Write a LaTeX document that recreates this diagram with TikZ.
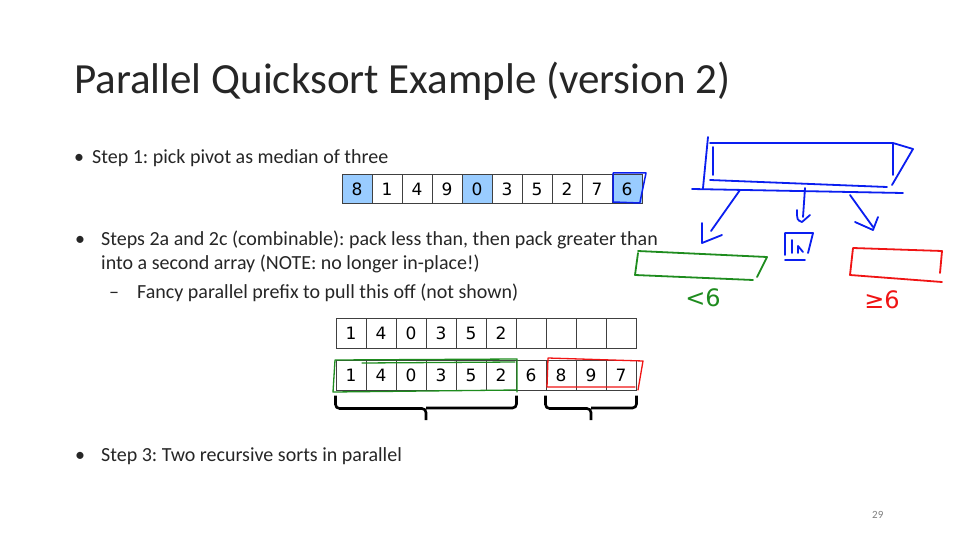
\documentclass[tikz,border=0pt]{standalone}
\usepackage{fontspec}
\setmainfont{Carlito}
\newfontfamily\cellfont{DejaVu Sans}
\usepackage{tikz}
\usetikzlibrary{arrows.meta,positioning}
\frenchspacing
\definecolor{qstext}{RGB}{38,38,38}
\definecolor{qsgray}{RGB}{64,64,64}
\definecolor{qspivot}{RGB}{153,204,255}
\definecolor{qsblue}{RGB}{10,30,240}
\definecolor{qsgreen}{RGB}{30,140,30}
\definecolor{qsred}{RGB}{240,20,20}
\tikzset{
  cell/.style={draw=qsgray, line width=1pt, minimum width=30pt, minimum height=28pt,
    inner sep=0pt, font=\cellfont\fontsize{17}{17}\selectfont, text=black},
  body/.style={anchor=base west, inner sep=0pt, text=qstext, font=\fontsize{20}{20}\selectfont},
  ink/.style={line width=1.8pt, line cap=round, line join=round},
}

\begin{document}
\begin{tikzpicture}[x=1pt, y=-1pt]
  \useasboundingbox (0,0) rectangle (960,540);
  \fill[white] (0,0) rectangle (960,540);
  % title and bullets
  \node[body, font=\fontsize{43}{43}\selectfont] (title) at (74,94) {Parallel Quicksort Example (version 2)};
  \node[body] (d1) at (74,164) {•};
  \node[body] (b1) at (92,164) {Step 1: pick pivot as median of three};
  \node[body] (d2) at (75,245) {•};
  \node[body] (b2) at (101,245) {Steps 2a and 2c (combinable): pack less than, then pack greater than};
  \node[body] (b2l) at (101,269) {into a second array (NOTE: no longer in-place!)};
  \node[body] (d3) at (109,298) {–};
  \node[body] (b3) at (137,298) {Fancy parallel prefix to pull this off (not shown)};
  \node[body] (d4) at (75,461) {•};
  \node[body] (b4) at (101,461) {Step 3: Two recursive sorts in parallel};
  \node[body, text=gray, font=\fontsize{11}{11}\selectfont] (page) at (872,518) {29};
  % input array
  \foreach \v/\f [count=\i] in {8/qspivot, 1/white, 4/white, 9/white, 0/qspivot,
                                3/white, 5/white, 2/white, 7/white, 6/qspivot}
    \node[cell, fill=\f] (a\i) at ({342+30*\i-15},189) {\v};
  % packed arrays
  \foreach \v [count=\i] in {1,4,0,3,5,2,{},{},{},{}}
    \node[cell, minimum height=30pt] (p\i) at ({336+30*\i-15},333) {\v};
  \foreach \v [count=\i] in {1,4,0,3,5,2,6,8,9,7}
    \node[cell, minimum height=30pt] (q\i) at ({336+30*\i-15},375) {\v};
  % braces
  \draw[line width=2.6pt, rounded corners=4pt] ([yshift=-5pt]q1.south west) -- ++(0,13) -| (426,420)
    (426,408) -| ([yshift=-5pt]q6.south east);
  \draw[line width=2.6pt, rounded corners=4pt] ([yshift=-5pt]q8.south west) -- ++(0,13) -| (591,420)
    (591,408) -| ([yshift=-5pt]q10.south east);
  % hand drawn marks
  \draw[ink, qsblue, line width=1.5pt] (613,173) -- (646,173) -- (640,202) (613,173) -- (613,202) -- (640,203);
  \draw[ink, qsgreen, line width=1.3pt] (335,360) -- (517,359) -- (517,392) (335,360) -- (333,392) -- (517,390)
    (362,363) -- (515,362);
  \draw[ink, qsred, line width=1.3pt] (548,358) -- (643,361) -- (638,390) (548,358) -- (547,387) -- (635,387);
  % sketch: partition
  \draw[ink, qsblue] (708,137) -- (703,188) (710,143) -- (893,143) -- (913,149) -- (892,185)
    (713,147) -- (713,175) (710,180) -- (887,187) (893,143) -- (893,175)
    (692,189) -- (903,193);
  \draw[ink, qsblue] (740,190) -- (711,231) (702,223) -- (702,243) -- (722,235);
  \draw[ink, qsblue] (805,188) -- (803,217) (797,210) .. controls (797,220) .. (802,222) -- (810,215);
  \draw[ink, qsblue] (850,195) -- (873,227) (855,222) -- (873,230) -- (878,217);
  \draw[ink, qsblue] (785,233) -- (785,255) (785,233) -- (813,233) -- (808,253)
    (785,260) -- (805,260) (792,240) -- (792,253) (798,253) -- (798,246) -- (803,252);
  \draw[ink, qsgreen] (638,251) -- (767,257) -- (757,277) (638,253) -- (635,275) -- (753,280);
  \draw[ink, qsred] (853,248) -- (942,251) -- (940,273) (853,248) -- (850,275) -- (942,282);
  \node[text=qsgreen, font=\cellfont\fontsize{24}{24}\selectfont] (lt) at (703,298) {<6};
  \node[text=qsred, font=\cellfont\fontsize{24}{24}\selectfont] (ge) at (882,300) {≥6};
\end{tikzpicture}
\end{document}
